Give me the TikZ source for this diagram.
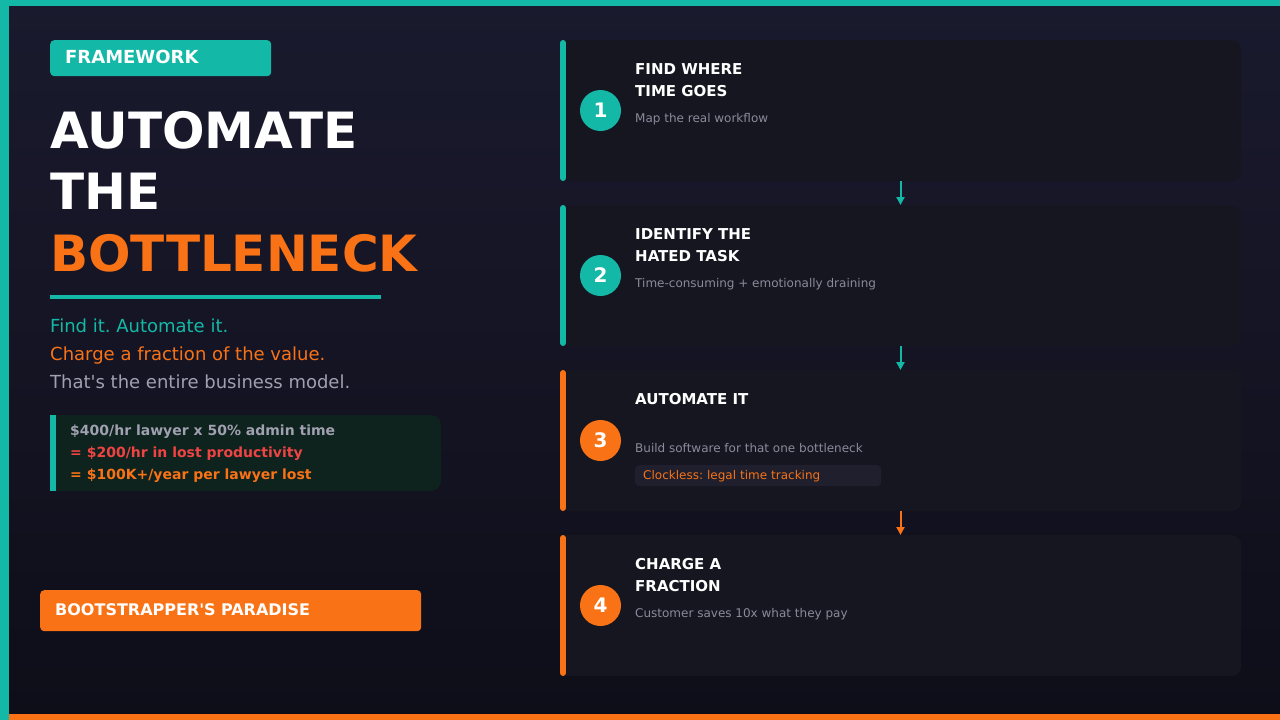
\documentclass[tikz,border=0pt]{standalone}
\usepackage{fontspec}
\setmainfont{DejaVu Sans}[Ligatures=TeXOff]
\usetikzlibrary{arrows.meta}
\definecolor{bgtop}{HTML}{1A1A2E}
\definecolor{bgbot}{HTML}{0E0E19}
\definecolor{tl}{HTML}{14B8A6}
\definecolor{og}{HTML}{F97316}
\definecolor{rd}{HTML}{EF4444}
\definecolor{cardbg}{HTML}{161621}
\definecolor{calcbg}{HTML}{0E221E}
\definecolor{chipbg}{HTML}{1F1F2E}
\definecolor{soft}{HTML}{A0A0B0}
\definecolor{dim}{HTML}{8A8A9A}

\begin{document}
\frenchspacing
\begin{tikzpicture}[x=1pt,y=-1pt,
  card/.style={fill=cardbg, rounded corners=10, minimum width=685, minimum height=141, inner sep=0, anchor=north west},
  num/.style={circle, minimum size=41, inner sep=0, text=white, font=\fontsize{20}{20}\selectfont\bfseries},
  head/.style={anchor=base west, inner sep=0, align=left, text=white, font=\fontsize{15}{22}\selectfont\bfseries},
  desc/.style={anchor=base west, inner sep=0, text=dim, font=\fontsize{12}{12}\selectfont},
  chip/.style={anchor=north west, fill=chipbg, rounded corners=4, minimum height=21, inner xsep=8, inner ysep=0, text width=230, text=og, font=\fontsize{12}{12}\selectfont},
  badge/.style={anchor=north west, inner xsep=15, inner ysep=0, text depth=2.5pt, text=white, align=left, rounded corners=4, font=\fontsize{16}{16}\selectfont\bfseries},
  flow/.style={line width=2, -{Triangle[width=8pt,length=8pt]}}]
\useasboundingbox (0,0) rectangle (1280,720);
\shade[top color=bgtop, bottom color=bgbot] (0,0) rectangle (1280,720);
\fill[og] (0,714) rectangle (1280,720);
\fill[tl] (0,0) rectangle (1280,6);
\fill[tl] (0,0) rectangle (9,720);

% left column (base of a multi-line node = its last line)
\node[badge, fill=tl, minimum height=36, text width=191, font=\fontsize{18}{18}\selectfont\bfseries] (fw) at (50,40) {FRAMEWORK};
\node[anchor=base west, inner sep=0, align=left, text=white, font=\fontsize{50}{61.5}\selectfont\bfseries] (ttl) at (50,271) {AUTOMATE\\THE\\\textcolor{og}{BOTTLENECK}};
\fill[tl] (50,295) rectangle (381,299);
\node[anchor=base west, inner sep=0, align=left, font=\fontsize{18}{28}\selectfont] (sub) at (50,388) {\textcolor{tl}{Find it. Automate it.}\\\textcolor{og}{Charge a fraction of the value.}\\\textcolor{soft}{That's the entire business model.}};
\begin{scope}
  \clip (50,415) rectangle (441,491);
  \fill[calcbg, rounded corners=10] (30,415) rectangle (441,491);
\end{scope}
\fill[tl] (50,415) rectangle (56,491);
\node[anchor=base west, inner sep=0, align=left, font=\fontsize{14}{22}\selectfont\bfseries] (calc) at (70,479) {\textcolor{soft}{\$400/hr lawyer x 50\% admin time}\\\textcolor{rd}{= \$200/hr in lost productivity}\\\textcolor{og}{= \$100K+/year per lawyer lost}};
\node[badge, fill=og, minimum height=41, text width=351] (bp) at (40,590) {BOOTSTRAPPER'S PARADISE};

% steps
\coordinate (ax) at (900.5,0);
\foreach \i/\y/\c in {1/40/tl,2/205/tl,3/370/og,4/535/og}{
  \begin{scope}
    \clip (566,\y) rectangle (1241,\y+141);
    \node[card] (s\i) at (556,\y) {};
  \end{scope}
  \draw[\c, line width=6, line cap=round] (563,\y+3) -- (563,\y+138);
  \node[num, fill=\c] (n\i) at (600.5,\y+70.5) {\i};
}
\node[head] (h1) at (635,96) {FIND WHERE\\TIME GOES};
\node[desc] (d1) at (635,122) {Map the real workflow};
\node[head] (h2) at (635,261) {IDENTIFY THE\\HATED TASK};
\node[desc] (d2) at (635,287) {Time-consuming + emotionally draining};
\node[head] (h3) at (635,404) {AUTOMATE IT};
\node[desc] (d3) at (635,452) {Build software for that one bottleneck};
\node[chip] (k3) at (635,465) {Clockless: legal time tracking};
\node[head] (h4) at (635,591) {CHARGE A\\FRACTION};
\node[desc] (d4) at (635,617) {Customer saves 10x what they pay};

\draw[flow, tl] (s1.south -| ax) -- (s2.north -| ax);
\draw[flow, tl] (s2.south -| ax) -- (s3.north -| ax);
\draw[flow, og] (s3.south -| ax) -- (s4.north -| ax);
\end{tikzpicture}
\end{document}
